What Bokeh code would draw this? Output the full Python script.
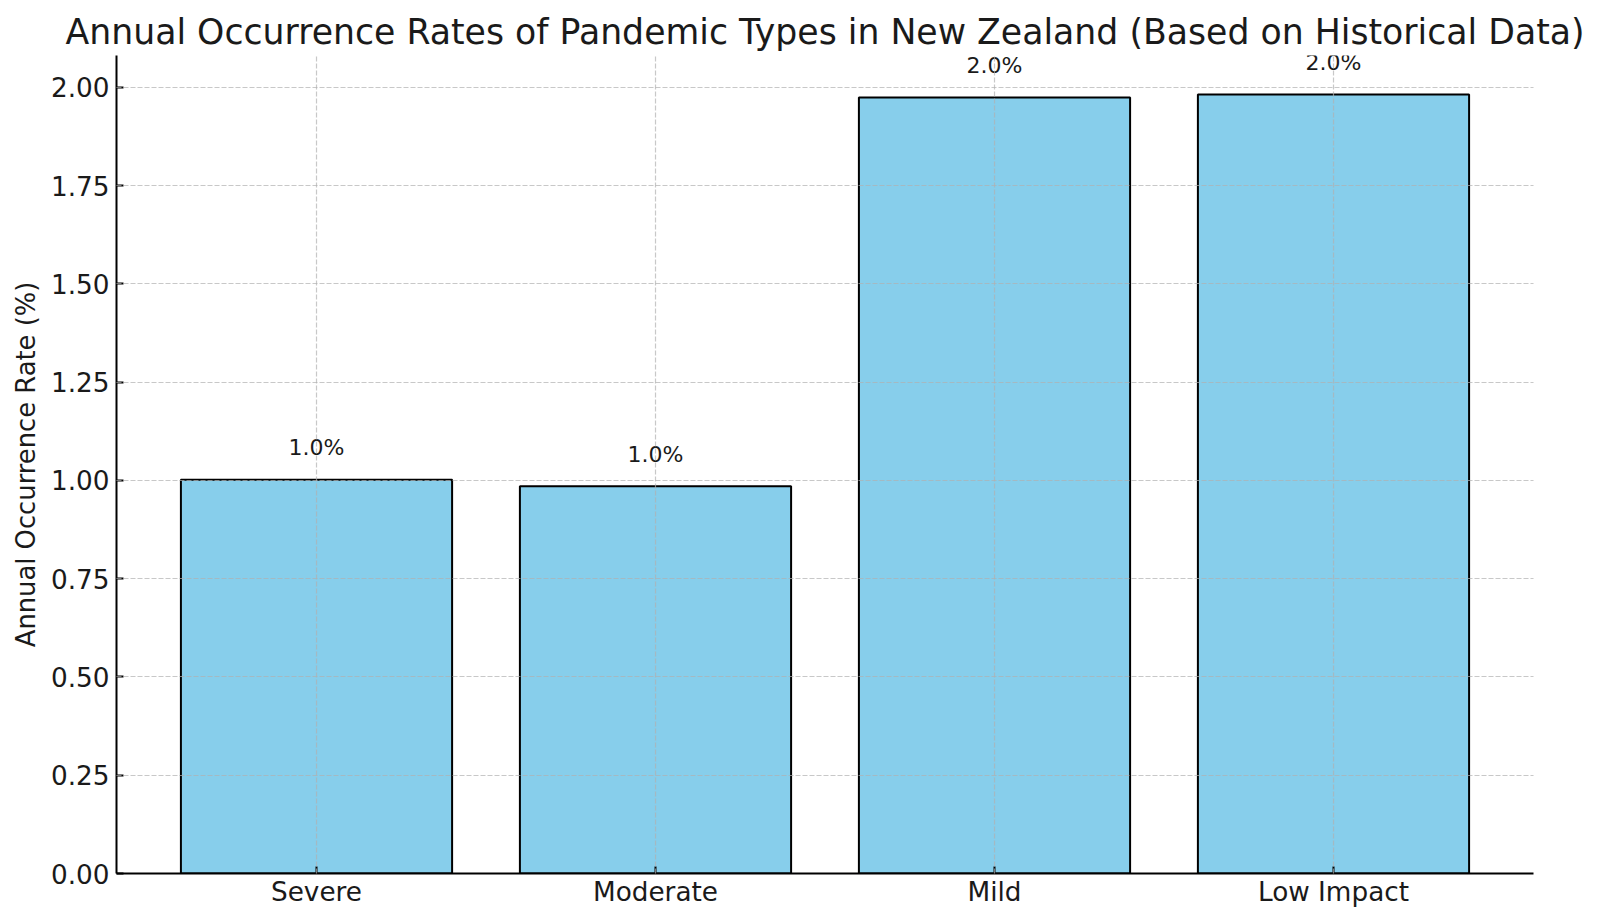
from bokeh.plotting import figure
from bokeh.models import Range1d, FixedTicker, PrintfTickFormatter, ColumnDataSource
from bokeh.embed import file_html
from bokeh.resources import INLINE

# ---- data ----
categories = ["Severe", "Moderate", "Mild", "Low Impact"]
rates = [1.002, 0.985, 1.974, 1.982]
y_ticks = [0.0, 0.25, 0.5, 0.75, 1.0, 1.25, 1.5, 1.75, 2.0]
title_text = "Annual Occurrence Rates of Pandemic Types in New Zealand (Based on Historical Data)"
y_label = "Annual Occurrence Rate (%)"

FONT = "DejaVu Sans"
bar_width = 0.8
xs = list(range(len(categories)))
labels = [f"{r:.1f}%" for r in rates]
label_y = [r + 0.05 for r in rates]

x_lo = -bar_width / 2
x_hi = (len(categories) - 1) + bar_width / 2
pad = 0.05 * (x_hi - x_lo)

src = ColumnDataSource(dict(x=xs, top=rates, lab=labels, ly=label_y))

p = figure(width=1584, height=914, output_backend="svg", toolbar_location=None,
           x_range=Range1d(x_lo - pad, x_hi + pad),
           y_range=Range1d(0, max(rates) * 1.05),
           min_border_left=116, min_border_right=51, min_border_top=55, min_border_bottom=41)

p.title.text = title_text
p.title.text_font = FONT
p.title.text_font_size = "34.7px"
p.title.text_font_style = "normal"
p.title.text_color = "#1a1a1a"
p.title.align = "center"
p.title.standoff = 8

p.vbar(x="x", top="top", width=bar_width, bottom=0, source=src,
       fill_color="#87CEEB", line_color="black", line_width=2)

p.text(x="x", y="ly", text="lab", source=src, text_align="center", text_baseline="bottom",
       text_font_size="22px", text_color="#1a1a1a", text_font={"value": FONT})

p.outline_line_color = None
p.background_fill_color = "white"
p.border_fill_color = "white"

# axes
p.xaxis.ticker = FixedTicker(ticks=xs)
p.xaxis.major_label_overrides = {i: c for i, c in zip(xs, categories)}
p.yaxis.ticker = FixedTicker(ticks=y_ticks)
p.yaxis.formatter = PrintfTickFormatter(format="%.2f")
p.yaxis.axis_label = y_label

for ax in (p.xaxis, p.yaxis):
    ax.axis_line_color = "black"
    ax.axis_line_width = 2
    ax.major_tick_line_color = "black"
    ax.major_tick_line_width = 2
    ax.major_tick_in = 7
    ax.major_tick_out = 0
    ax.minor_tick_line_color = None
    ax.major_label_text_font = FONT
    ax.major_label_text_font_size = "26.3px"
    ax.major_label_text_color = "#1a1a1a"
    ax.axis_label_text_font = FONT
    ax.axis_label_text_font_size = "25.8px"
    ax.axis_label_text_font_style = "normal"
    ax.axis_label_text_color = "#1a1a1a"

p.xaxis.major_label_standoff = 3
p.yaxis.major_label_standoff = 7
p.yaxis.axis_label_standoff = 7

# grid over bars, dashed
for g in (p.xgrid, p.ygrid):
    g.grid_line_color = "#b0b0b0"
    g.grid_line_alpha = 0.7
    g.grid_line_dash = "5 2"
    g.grid_line_width = 1.2
    g.level = "annotation"
p.xgrid.ticker = FixedTicker(ticks=xs)
p.ygrid.ticker = FixedTicker(ticks=y_ticks)

open("out.html", "w").write(file_html(p, INLINE))
